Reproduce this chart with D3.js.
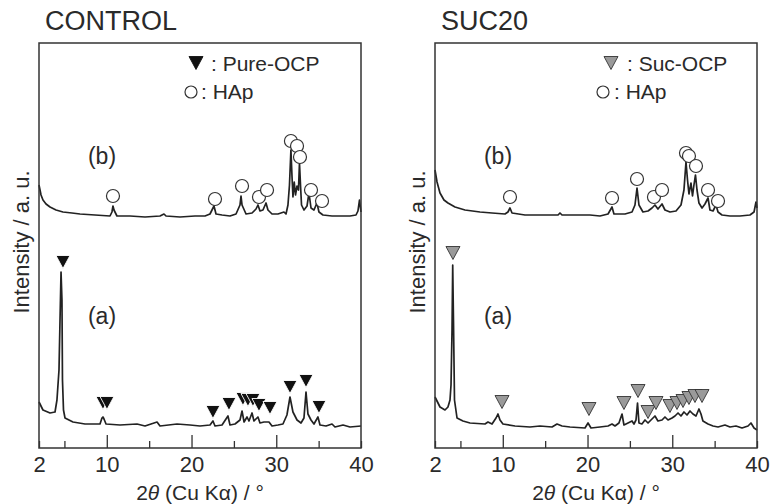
<!DOCTYPE html>
<html>
<head>
<meta charset="utf-8">
<script src="https://cdn.jsdelivr.net/npm/d3@7/dist/d3.min.js"></script>
<style>
  body { margin: 0; background: #fff; }
  text { font-family: Arial, "Liberation Sans", sans-serif; fill: #2a2a2a; }
</style>
</head>
<body>
<div id="wrapper"></div>
<script>
// 2theta (deg), intensity (a.u.)
const ctrlA = [[2.00,46],[2.47,38],[3.30,35],[3.89,36],[4.12,48],[4.36,78],[4.48,128],[4.60,176],[4.71,148],[4.77,68],[4.89,38],[5.07,30],[6.01,26],[7.43,24],[9.20,24],[9.43,30],[9.55,31],[9.67,29],[9.91,24],[11.56,23],[13.57,24],[14.51,22],[15.93,26],[16.28,22],[18.29,24],[19.82,23],[21.00,22],[22.18,23],[22.53,27],[22.77,22],[23.60,23],[24.30,32],[24.54,23],[25.13,24],[25.72,28],[25.96,37],[26.20,26],[26.55,31],[26.78,27],[27.14,35],[27.37,27],[27.84,31],[28.08,25],[28.55,26],[29.14,26],[29.50,22],[30.20,23],[30.79,24],[31.26,33],[31.62,51],[31.97,36],[32.45,28],[32.92,25],[33.27,30],[33.51,56],[33.74,34],[34.10,28],[34.45,24],[34.92,31],[35.16,23],[35.87,22],[36.58,24],[36.93,21],[37.88,23],[38.70,21],[40.00,22]]
const ctrlB = [[2.00,263],[2.24,253],[2.47,248],[2.83,244],[3.30,241],[4.01,238],[4.83,236],[5.89,235],[6.84,234],[8.61,233],[10.38,232],[10.61,236],[10.73,242],[10.85,238],[11.20,232],[12.74,232],[14.51,231],[16.28,232],[16.75,234],[16.99,232],[18.64,231],[20.41,232],[21.59,232],[22.18,234],[22.65,242],[22.89,234],[23.60,233],[24.54,232],[25.25,234],[25.72,243],[25.84,252],[25.96,243],[26.43,234],[27.14,235],[27.61,239],[27.84,243],[28.08,237],[28.43,238],[28.79,245],[29.02,238],[29.50,234],[30.20,234],[30.91,236],[31.15,234],[31.38,243],[31.56,263],[31.73,298],[31.85,273],[31.97,251],[32.12,266],[32.27,253],[32.45,262],[32.62,258],[32.74,285],[32.86,263],[32.98,243],[33.27,238],[33.63,242],[33.86,255],[34.10,240],[34.45,238],[34.80,245],[35.04,236],[35.51,233],[36.58,232],[37.52,232],[38.70,232],[39.41,233],[39.64,237],[39.82,248],[40.00,236]]
const sucA = [[2.00,51],[2.59,41],[3.18,38],[3.53,41],[3.77,48],[3.89,63],[4.01,118],[4.09,183],[4.18,128],[4.30,48],[4.60,30],[5.30,27],[6.13,25],[7.90,24],[8.25,26],[8.73,24],[9.20,30],[9.43,34],[9.67,28],[10.02,24],[11.44,22],[13.21,21],[14.39,22],[15.81,21],[16.40,24],[16.99,22],[17.93,21],[19.70,20],[20.06,25],[20.41,20],[21.47,21],[22.42,22],[22.89,24],[23.24,22],[23.71,25],[24.07,34],[24.30,23],[24.78,25],[25.25,27],[25.48,24],[25.72,28],[25.90,45],[26.07,25],[26.42,24],[26.78,28],[27.14,25],[27.49,28],[27.96,32],[28.31,27],[28.79,28],[29.14,31],[29.50,28],[29.97,30],[30.32,32],[30.68,35],[31.03,32],[31.38,36],[31.74,33],[32.09,37],[32.44,34],[32.80,32],[33.15,39],[33.39,34],[33.62,27],[34.22,24],[34.81,22],[35.40,21],[36.22,23],[36.81,21],[37.52,22],[38.23,20],[38.94,22],[39.29,25],[39.65,20],[40.00,18]]
const sucB = [[2.00,278],[2.24,266],[2.59,255],[3.06,248],[3.53,245],[4.36,241],[5.54,238],[7.31,236],[8.73,235],[10.26,234],[10.61,236],[10.85,240],[11.09,235],[12.62,233],[14.39,233],[16.52,233],[16.75,235],[16.99,233],[18.52,233],[20.29,233],[21.47,232],[22.42,234],[22.89,241],[23.12,234],[24.42,234],[25.25,236],[25.60,243],[25.84,260],[26.07,243],[26.54,236],[27.14,237],[27.61,240],[27.96,243],[28.31,239],[28.79,244],[29.14,238],[29.73,236],[30.44,237],[31.03,243],[31.38,258],[31.62,286],[31.80,268],[31.97,254],[32.21,265],[32.39,252],[32.56,263],[32.74,273],[32.92,258],[33.15,245],[33.51,240],[33.86,244],[34.22,250],[34.45,238],[34.81,237],[35.16,243],[35.40,236],[35.87,233],[36.81,232],[37.99,232],[39.17,233],[39.65,236],[39.88,246],[40.00,240]]

// marker positions (2theta, intensity)
const ctrlOcpMarks = [[4.83,186],[9.55,45],[10.02,45],[22.53,36],[24.42,44],[26.07,49],[26.66,48],[27.25,48],[27.96,43],[29.26,40],[31.62,61],[33.51,67],[35.04,41]]
const ctrlHapMarks = [[10.73,252],[22.77,249],[25.96,262],[27.96,251],[28.91,258],[31.73,307],[32.45,302],[32.80,291],[34.10,258],[35.40,247]]
const sucOcpMarks = [[4.12,195],[9.91,46],[20.17,39],[24.30,45],[25.96,57],[27.14,36],[28.08,45],[29.73,42],[30.56,45],[31.27,47],[31.97,50],[32.68,52],[33.51,52]]
const sucHapMarks = [[10.85,251],[22.89,250],[25.84,269],[27.84,251],[28.79,258],[31.62,295],[31.97,292],[32.80,282],[34.22,258],[35.40,247]]

const xTicks = [2, 5, 10, 15, 20, 25, 30, 35, 40]
const xTickLabels = [2, 10, 20, 30, 40]
const majorTicks = [10, 20, 30]

const panels = [
  { title: "CONTROL", left: 39, a: ctrlA, b: ctrlB, ocp: ctrlOcpMarks, hap: ctrlHapMarks,
    ocpFill: "#111", ocpStroke: "#fff", ocpName: ": Pure-OCP",
    legend: { tri: [196, 63], triText: 211, circ: [191, 92], circText: 201 } },
  { title: "SUC20", left: 435, a: sucA, b: sucB, ocp: sucOcpMarks, hap: sucHapMarks,
    ocpFill: "#9a9a9a", ocpStroke: "#333", ocpName: ": Suc-OCP",
    legend: { tri: [611, 63], triText: 627, circ: [603, 92], circText: 614 } },
]

const dimensions = { width: 770, height: 504, top: 43, bottom: 448, panelWidth: 322 }

const svg = d3.select("#wrapper").append("svg")
    .attr("width", dimensions.width)
    .attr("height", dimensions.height)

const triPath = "M-7,-6.5L7,-6.5L0,6.5Z"

panels.forEach(p => {
  const xScale = d3.scaleLinear()
    .domain([2, 40])
    .range([p.left, p.left + dimensions.panelWidth])
  const yScale = d3.scaleLinear()
    .domain([0, 405])
    .range([dimensions.bottom, dimensions.top])

  const g = svg.append("g")

  // curves
  const line = d3.line()
    .x(d => xScale(d[0]))
    .y(d => yScale(d[1]))
  ;[p.a, p.b].forEach(series => {
    g.append("path")
        .datum(series)
        .attr("d", line)
        .attr("fill", "none")
        .attr("stroke", "#222")
        .attr("stroke-width", 1.7)
        .attr("stroke-linejoin", "round")
  })

  // axis
  const xAxisGenerator = d3.axisBottom(xScale)
    .tickValues(xTicks)
    .tickSizeInner(-7)
    .tickSizeOuter(0)
    .tickPadding(8)
    .tickFormat(d => xTickLabels.includes(d) ? d : "")
  const xAxis = g.append("g")
      .attr("transform", `translate(0,${dimensions.bottom})`)
      .call(xAxisGenerator)
  xAxis.select(".domain").remove()
  xAxis.selectAll(".tick line")
      .attr("y2", d => majorTicks.includes(d) ? -13 : -7)
      .attr("stroke", "#333")
      .attr("stroke-width", 1.3)
  xAxis.selectAll(".tick text")
      .style("font-size", "22px")
      .style("font-family", "Arial, 'Liberation Sans', sans-serif")
      .attr("fill", "#2a2a2a")

  // frame
  g.append("rect")
      .attr("x", xScale(2))
      .attr("y", dimensions.top)
      .attr("width", xScale(40) - xScale(2))
      .attr("height", dimensions.bottom - dimensions.top)
      .attr("fill", "none")
      .attr("stroke", "#333")
      .attr("stroke-width", 1.5)

  // markers
  g.selectAll(".ocp").data(p.ocp).join("path")
      .attr("class", "ocp")
      .attr("d", triPath)
      .attr("transform", d => `translate(${xScale(d[0])},${yScale(d[1])})`)
      .attr("fill", p.ocpFill)
      .attr("stroke", p.ocpStroke)
      .attr("stroke-width", 0.9)
  g.selectAll(".hap").data(p.hap).join("circle")
      .attr("class", "hap")
      .attr("cx", d => xScale(d[0]))
      .attr("cy", d => yScale(d[1]))
      .attr("r", 6.5)
      .attr("fill", "#fff")
      .attr("stroke", "#333")
      .attr("stroke-width", 1.2)

  // labels
  g.append("text")
      .attr("x", p.left + 6)
      .attr("y", 30)
      .style("font-size", "27px")
      .text(p.title)
  g.append("text")
      .attr("x", p.left + 63)
      .attr("y", 164)
      .attr("text-anchor", "middle")
      .style("font-size", "23px")
      .text("(b)")
  g.append("text")
      .attr("x", p.left + 63)
      .attr("y", 324)
      .attr("text-anchor", "middle")
      .style("font-size", "23px")
      .text("(a)")

  // legend
  g.append("path")
      .attr("d", triPath)
      .attr("transform", `translate(${p.legend.tri[0]},${p.legend.tri[1]})`)
      .attr("fill", p.ocpFill)
      .attr("stroke", p.ocpFill === "#111" ? "#111" : "#333")
      .attr("stroke-width", 0.9)
  g.append("text")
      .attr("x", p.legend.triText)
      .attr("y", 71)
      .style("font-size", "21px")
      .text(p.ocpName)
  g.append("circle")
      .attr("cx", p.legend.circ[0])
      .attr("cy", p.legend.circ[1])
      .attr("r", 6)
      .attr("fill", "#fff")
      .attr("stroke", "#333")
      .attr("stroke-width", 1.2)
  g.append("text")
      .attr("x", p.legend.circText)
      .attr("y", 99)
      .style("font-size", "21px")
      .text(": HAp")

  // axis titles
  g.append("text")
      .attr("transform", `translate(${p.left - 10},242) rotate(-90)`)
      .attr("text-anchor", "middle")
      .style("font-size", "22px")
      .text("Intensity / a. u.")
  const xl = g.append("text")
      .attr("x", (xScale(2) + xScale(40)) / 2)
      .attr("y", 500)
      .attr("text-anchor", "middle")
      .style("font-size", "21px")
  xl.append("tspan").text("2")
  xl.append("tspan").style("font-style", "italic").text("θ")
  xl.append("tspan").text(" (Cu Kα) / °")
})
</script>
</body>
</html>
